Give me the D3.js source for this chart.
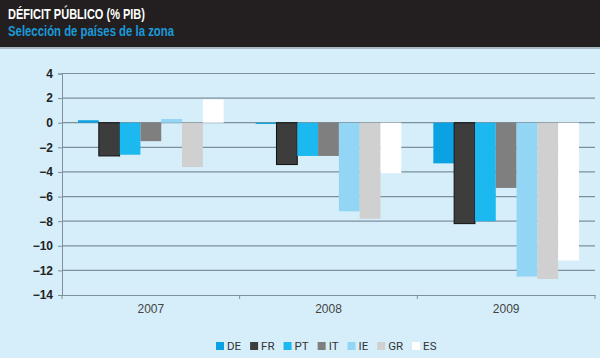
<!DOCTYPE html>
<html><head><meta charset="utf-8">
<script src="https://cdn.jsdelivr.net/npm/d3@7"></script>
<style>
html,body{margin:0;padding:0;background:#d5eefa;}
svg{display:block;}
</style></head>
<body>
<svg id="c" width="600" height="358"></svg>
<script>
const years = ["2007", "2008", "2009"];
const countries = ["DE", "FR", "PT", "IT", "IE", "GR", "ES"];
const DE = [0.2, -0.1, -3.3];
const FR = [-2.7, -3.4, -8.2];
const PT = [-2.6, -2.7, -8.0];
const IT = [-1.5, -2.7, -5.3];
const IE = [0.3, -7.2, -12.5];
const GR = [-3.6, -7.8, -12.7];
const ES = [1.9, -4.1, -11.2];
const yTicks = [4, 2, 0, -2, -4, -6, -8, -10, -12, -14];
const title = "DÉFICIT PÚBLICO (% PIB)";
const subtitle = "Selección de países de la zona";

const seriesValues = {DE, FR, PT, IT, IE, GR, ES};
const colors = {DE:"#0aa2e2", FR:"#3d3d3d", PT:"#1bb9ef", IT:"#7f7f7f", IE:"#92d5f5", GR:"#d0d0d0", ES:"#ffffff"};

const svg = d3.select("#c");
svg.append("rect").attr("width",600).attr("height",358).attr("fill","#d5eefa");
// header
svg.append("rect").attr("x",0).attr("y",0).attr("width",600).attr("height",47).attr("fill","#231f20");
svg.append("rect").attr("x",0).attr("y",47).attr("width",600).attr("height",2).attr("fill","#a9b8c2");
svg.append("text").attr("x",8).attr("y",19).text(title)
  .attr("font-family","'Liberation Sans Narrow','Arial Narrow',sans-serif").attr("font-weight","bold")
  .attr("font-size",14).attr("fill","#ffffff").attr("textLength",137).attr("lengthAdjust","spacingAndGlyphs");
svg.append("text").attr("x",8).attr("y",36).text(subtitle)
  .attr("font-family","'Liberation Sans Narrow','Arial Narrow',sans-serif").attr("font-weight","bold")
  .attr("font-size",14).attr("fill","#1a9ad8").attr("textLength",166).attr("lengthAdjust","spacingAndGlyphs");

const pLeft = 62, pRight = 595, pTop = 73.5, pBottom = 295;
const y = d3.scaleLinear().domain([4, -14]).range([pTop, pBottom]);
const x0 = d3.scaleBand().domain(years).range([pLeft, pRight]).paddingInner(0).paddingOuter(0);
const x1 = d3.scaleBand().domain(countries).range([16, x0.bandwidth() - 16]).padding(0);

// gridlines
svg.append("g").selectAll("line").data(yTicks.filter(t => t !== -14)).join("line")
  .attr("x1", pLeft).attr("x2", pRight).attr("y1", d => y(d)).attr("y2", d => y(d))
  .attr("stroke","#7d909c").attr("stroke-width",1.2);

// bars
const groups = svg.append("g").selectAll("g").data(years).join("g")
  .attr("transform", d => `translate(${x0(d)},0)`);
groups.selectAll("rect").data((yr, i) => countries.map(c => ({c, v: seriesValues[c][i]}))).join("rect")
  .attr("x", d => x1(d.c)).attr("width", x1.bandwidth())
  .attr("y", d => y(Math.max(0, d.v))).attr("height", d => Math.abs(y(d.v) - y(0)))
  .attr("fill", d => colors[d.c])
  .attr("stroke", d => d.c === "FR" ? "#111" : "none").attr("stroke-width", 1);

// y axis
const yAxis = svg.append("g").attr("transform", `translate(${pLeft},0)`)
  .call(d3.axisLeft(y).tickValues(yTicks).tickSize(4).tickPadding(5));
yAxis.select(".domain").attr("stroke","#7d909c");
yAxis.selectAll(".tick line").attr("stroke","#7d909c");
yAxis.selectAll("text").attr("font-family","'Liberation Sans',Arial,sans-serif").attr("font-weight","bold")
  .attr("font-size",12).attr("fill","#222");

// x axis
const xAxis = svg.append("g").attr("transform", `translate(0,${pBottom})`)
  .call(d3.axisBottom(x0).tickSize(0).tickPadding(9));
xAxis.select(".domain").attr("stroke","#7d909c").attr("stroke-width",1.2);
xAxis.selectAll("text").attr("font-family","'Liberation Sans',Arial,sans-serif").attr("font-size",12).attr("fill","#444");
svg.append("g").selectAll("line").data(years.map(d => x0(d)).concat([pRight])).join("line")
  .attr("x1", d => d).attr("x2", d => d).attr("y1", pBottom).attr("y2", pBottom + 4)
  .attr("stroke","#7d909c");

// legend
const leg = svg.append("g");
let lx = 216;
countries.forEach(c => {
  const g = leg.append("g").attr("transform", `translate(${lx},0)`);
  g.append("rect").attr("x",0).attr("y",342).attr("width",8).attr("height",8).attr("fill",colors[c]);
  const t = g.append("text").attr("x",11).attr("y",350).text(c)
    .attr("font-family","Roboto,'Liberation Sans',sans-serif").attr("font-size",11.5).attr("fill","#333");
  lx += 11 + t.node().getComputedTextLength() + 9;
});
</script>
</body></html>
